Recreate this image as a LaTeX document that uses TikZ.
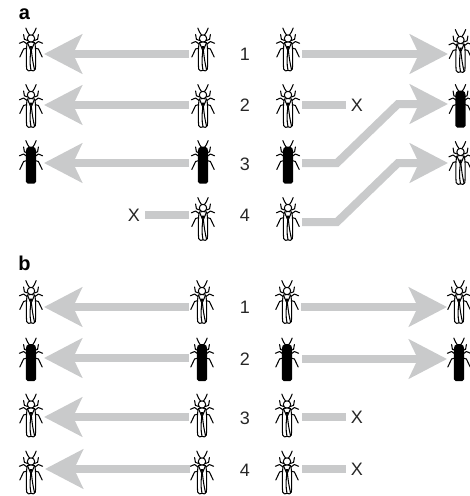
\documentclass[tikz,border=0pt]{standalone}
\usepackage{fontspec}
\setmainfont{Liberation Sans}
\usetikzlibrary{arrows.meta}
\definecolor{flowgrey}{HTML}{C9CACB}
\newcommand{\insectlimbs}{%
  \foreach \s in {-1,1} {
    \draw[limb] (\s*1.5,-14.5) .. controls (\s*2.4,-16.5) and (\s*4.6,-18) .. (\s*5.2,-21.5);
    \draw[limb] (\s*3.4,-9) -- (\s*6.6,-10.2) -- (\s*7.4,-15);
    \draw[limb] (\s*4,-5.5) -- (\s*7.4,-8) -- (\s*11.6,-6.2);
    \draw[limb] (\s*4,-1.5) -- (\s*7.4,-0.5) -- (\s*11.2,7.5);
  }}
\tikzset{
  x=1pt, y=-1pt,
  limb/.style={line width=1.05pt, line cap=round, line join=round, black},
  flow/.style={draw=flowgrey, line width=8pt, line join=miter,
    -{Stealth[length=38pt, width=39pt, inset=9pt]}},
  stub/.style={draw=flowgrey, line width=8pt},
  numeral/.style={font=\fontsize{18}{18}\selectfont, inner sep=0pt, text=black!85},
  crossmark/.style={numeral, minimum width=22pt},
  panel/.style={font=\fontsize{20}{20}\bfseries\selectfont, inner sep=0pt},
  pics/insect/.style={code={
    \insectlimbs
    \draw[limb, fill=white] (0,-11) circle (3.7);
    \draw[limb, fill=white] (-3.6,-7) .. controls (-5,-3) and (-4.8,10) .. (-4.4,19.5)
      .. controls (-3.8,21.8) and (-1,21.8) .. (0,20.8)
      .. controls (1,21.8) and (3.8,21.8) .. (4.4,19.5)
      .. controls (4.8,10) and (5,-3) .. (3.6,-7) .. controls (1.5,-7.6) and (-1.5,-7.6) .. cycle;
    \draw[limb] (-3.4,-6.6) -- (0,1.5) -- (3.4,-6.6);
    \fill (-1.4,-3.5) -- (1.4,-3.5) -- (0,1.5) -- cycle;
    \draw[limb] (-0.2,1) .. controls (-1,8) and (-1.4,14) .. (0,20.8);
    \draw[limb] (0.4,1) .. controls (1.2,8) and (2,14) .. (3.6,20.4);
  }},
  pics/darkinsect/.style={code={
    \insectlimbs
    \fill[rounded corners=1.8pt] (-5.2,21.5) -- (-5.2,-12.5) -- (-3.2,-15.5) -- (3.2,-15.5) -- (5.2,-12.5) -- (5.2,21.5) -- cycle;
  }}
}
\begin{document}
\begin{tikzpicture}
\useasboundingbox (0,0) rectangle (470,496);

% panel letters
\node[panel] (lettera) at (24.5,14.5) {a};
\node[panel] (letterb) at (24.5,263.5) {b};

% row numbers
\foreach \nm/\y/\t in {na1/54/1, na2/105/2, na3/164/3, na4/215/4, nb1/307/1, nb2/359/2, nb3/418/3, nb4/470/4}
  \node[numeral] (\nm) at (245,\y) {\t};

% insects of the first panel
\pic (ia1) at (31,49.5) {insect};
\pic (ia2) at (31,106) {insect};
\pic (ia3) at (31,162) {darkinsect};
\pic (ib1) at (203,49.5) {insect};
\pic (ib2) at (203,106) {insect};
\pic (ib3) at (203,162) {darkinsect};
\pic (ib4) at (203,219) {insect};
\pic (ic1) at (288,49.5) {insect};
\pic (ic2) at (288,106) {insect};
\pic (ic3) at (288,162) {darkinsect};
\pic (ic4) at (288,219) {insect};
\pic (id1) at (460.5,51) {insect};
\pic (id2) at (460.5,106) {darkinsect};
\pic (id3) at (460.5,163) {insect};

% insects of the second panel
\pic (ja1) at (31,302) {insect};
\pic (ja2) at (31,359.5) {darkinsect};
\pic (ja3) at (31,415.5) {insect};
\pic (ja4) at (31,472.5) {insect};
\pic (jb1) at (202,302) {insect};
\pic (jb2) at (202,359.5) {darkinsect};
\pic (jb3) at (202,415.5) {insect};
\pic (jb4) at (202,472.5) {insect};
\pic (jc1) at (287,302) {insect};
\pic (jc2) at (287,359.5) {darkinsect};
\pic (jc3) at (287,415.5) {insect};
\pic (jc4) at (287,472.5) {insect};
\pic (jd1) at (459,302) {insect};
\pic (jd2) at (459,359.5) {darkinsect};

% connector end points
\foreach \nm/\x/\y in {
  aL1/44/54, aS1/189/54, aL2/44/105, aS2/189/105, aL3/44/163, aS3/189/163, aS4/189/215,
  bS1/302/54, bT1/448/54, bS2/302/105, bS3/302/163, bK3/337/163, bJ3/398/104, bT3/448/104,
  bS4/302/222, bK4/337/222, bJ4/398/163, bT4/448/163,
  cL1/44/307, cS1/189/307, cL2/44/358, cS2/189/358, cL3/44/417, cS3/189/417, cL4/45/469, cS4/190/469,
  dS1/301/307, dT1/447/307, dS2/302/359, dT2/447/359, dS3/302/417, dS4/302/469}
  \coordinate (\nm) at (\x,\y);

% marks at the blocked ends
\node[crossmark] (xb2) at (357,105) {X};
\node[crossmark] (xa4) at (134,215) {X};
\node[crossmark] (xd3) at (357,417) {X};
\node[crossmark] (xd4) at (357,469) {X};

% first panel connectors
\draw[flow] (aS1) -- (aL1);
\draw[flow] (aS2) -- (aL2);
\draw[flow] (aS3) -- (aL3);
\draw[stub] (aS4) -- (xa4.east);
\draw[flow] (bS1) -- (bT1);
\draw[stub] (bS2) -- (xb2.west);
\draw[flow] (bS3) -- (bK3) -- (bJ3) -- (bT3);
\draw[flow] (bS4) -- (bK4) -- (bJ4) -- (bT4);

% second panel connectors
\draw[flow] (cS1) -- (cL1);
\draw[flow] (cS2) -- (cL2);
\draw[flow] (cS3) -- (cL3);
\draw[flow] (cS4) -- (cL4);
\draw[flow] (dS1) -- (dT1);
\draw[flow] (dS2) -- (dT2);
\draw[stub] (dS3) -- (xd3.west);
\draw[stub] (dS4) -- (xd4.west);
\end{tikzpicture}
\end{document}
